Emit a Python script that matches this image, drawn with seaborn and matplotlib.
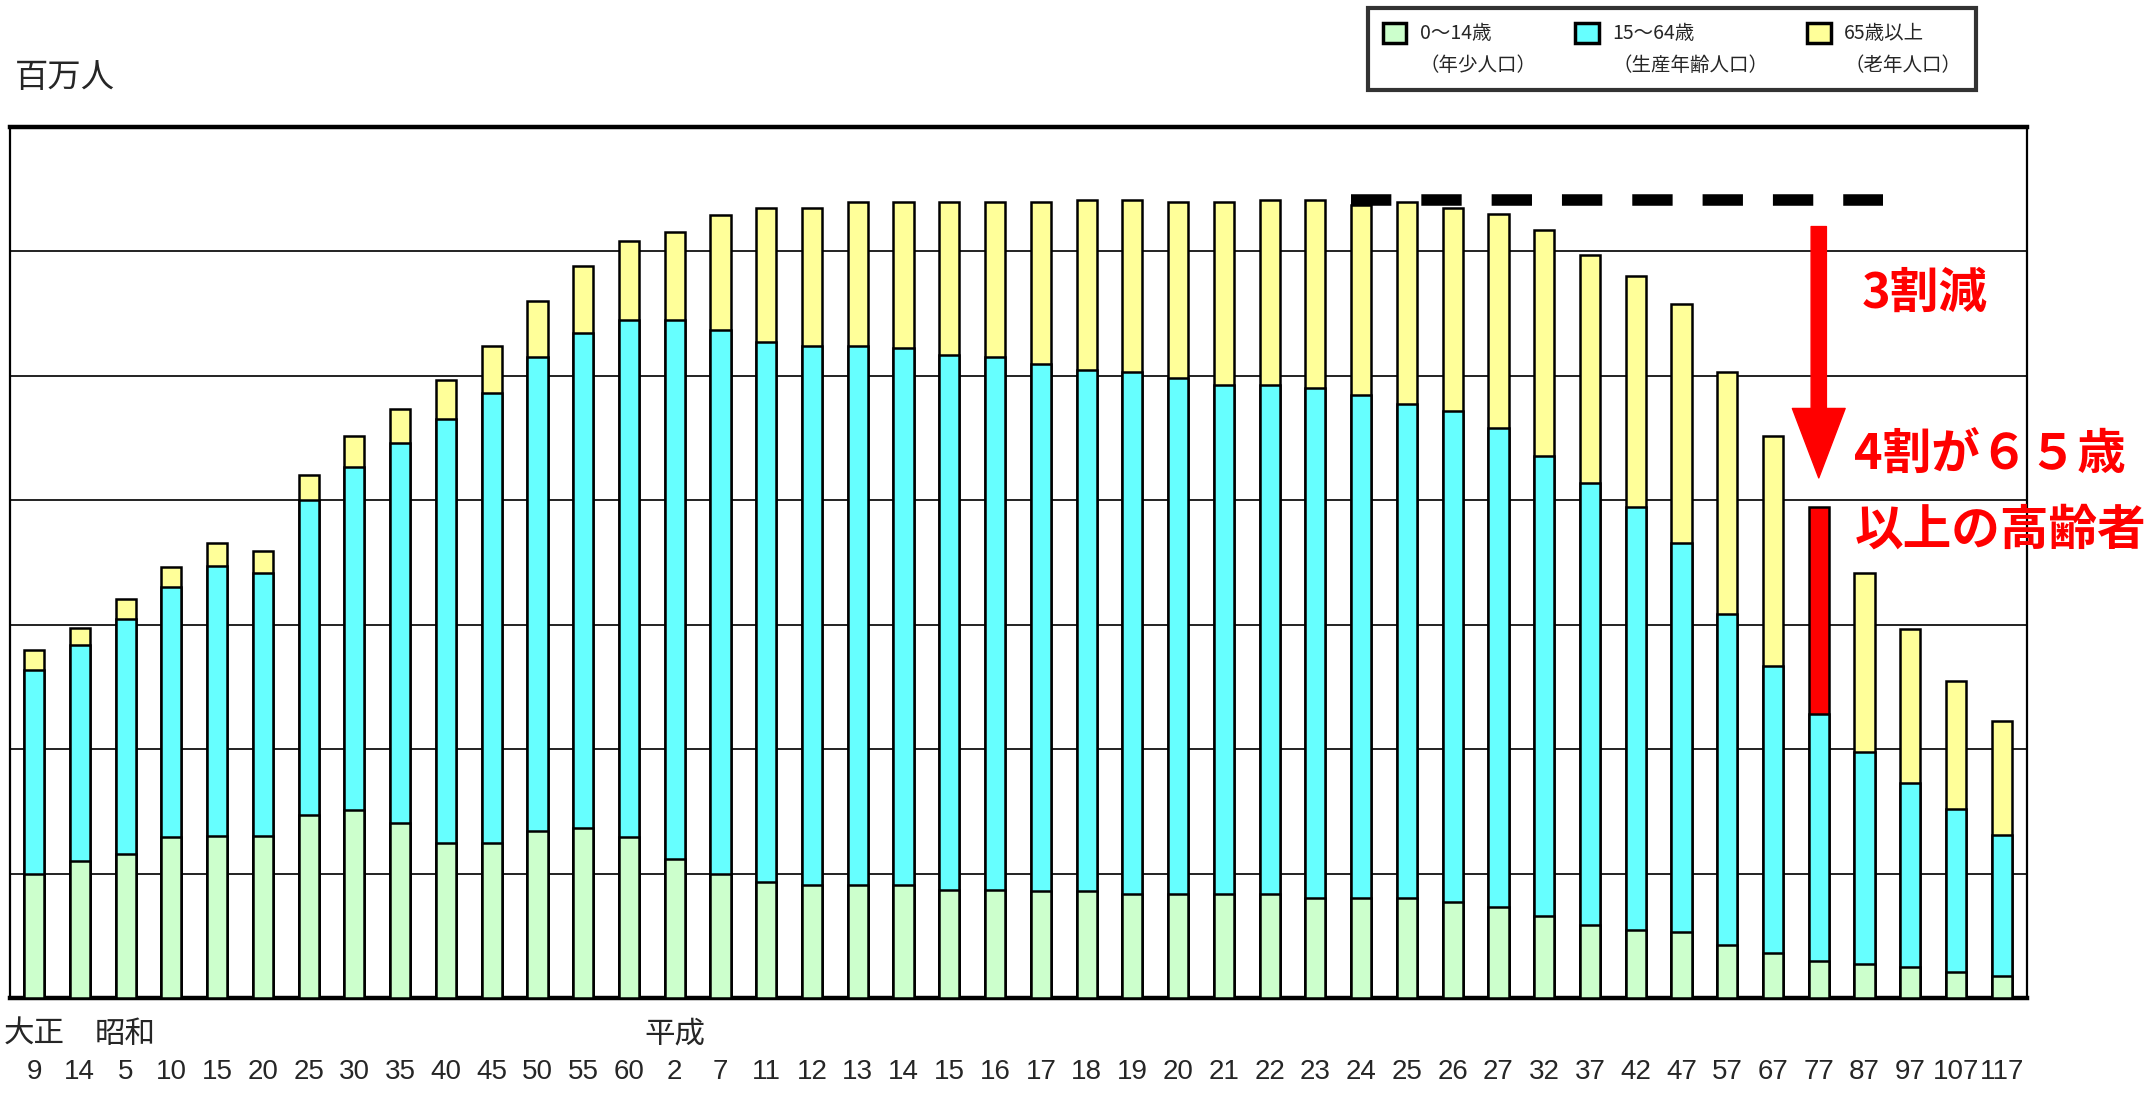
"""Japan population by age group (大正9 ~ 平成117), stacked bars."""

import matplotlib.pyplot as plt
import numpy as np
import pandas as pd
import seaborn as sns
from matplotlib.patches import Patch

# year labels under each bar (era year)
year_labels = ["9", "14", "5", "10", "15", "20", "25", "30", "35", "40", "45",
               "50", "55", "60", "2", "7", "11", "12", "13", "14", "15", "16",
               "17", "18", "19", "20", "21", "22", "23", "24", "25", "26", "27",
               "32", "37", "42", "47", "57", "67", "77", "87", "97", "107", "117"]
# era names, keyed by bar index
era_labels = {0: "大正", 2: "昭和", 14: "平成"}

# millions of people
young = [19.9, 22.0, 23.2, 25.8, 26.0, 26.0, 29.4, 30.2, 28.1, 24.9, 24.9,
         26.9, 27.3, 25.8, 22.4, 19.9, 18.6, 18.2, 18.2, 18.2, 17.3, 17.3,
         17.2, 17.2, 16.7, 16.7, 16.7, 16.7, 16.1, 16.1, 16.1, 15.5, 14.6,
         13.1, 11.8, 11.0, 10.6, 8.5, 7.2, 5.9, 5.5, 4.9, 4.2, 3.6]
working = [32.9, 34.8, 37.7, 40.3, 43.5, 42.3, 50.7, 55.2, 61.1, 68.1, 72.3,
           76.2, 79.6, 83.2, 86.6, 87.5, 86.9, 86.6, 86.6, 86.2, 86.1, 85.7,
           84.7, 83.8, 83.9, 83.0, 81.8, 81.8, 82.0, 80.9, 79.4, 78.8, 77.1,
           74.0, 71.0, 68.0, 62.5, 53.2, 46.1, 39.7, 34.1, 29.6, 26.1, 22.6]
elderly = [3.2, 2.6, 3.3, 3.2, 3.7, 3.6, 3.9, 4.9, 5.5, 6.3, 7.6,
           8.9, 10.8, 12.6, 14.2, 18.4, 21.5, 22.2, 23.1, 23.5, 24.5, 24.9,
           26.0, 27.3, 27.7, 28.2, 29.4, 29.8, 30.2, 30.5, 32.4, 32.7, 34.3,
           36.3, 36.6, 37.0, 38.5, 38.9, 37.1, 33.4, 28.7, 24.8, 20.6, 18.4]

series_labels = ["0～14歳\n（年少人口）", "15～64歳\n（生産年齢人口）", "65歳以上\n（老年人口）"]
highlight = 39      # 平成77: elderly share shown in red
dash_from = 29      # 平成24: start of the peak reference line
dash_to = 40

GREEN = "#CCFFCC"
TEAL = "#66FFFF"
YELLOW = "#FFFF99"
RED = "#FF0000"

n = len(young)
keys = [f"{i:02d}" for i in range(n)]
df = pd.DataFrame({"key": keys, "young": young, "working": working, "elderly": elderly})
df["mid"] = df["young"] + df["working"]
df["total"] = df["mid"] + df["elderly"]

sns.set_style("white")
plt.rcParams["font.family"] = ["Noto Sans CJK JP", "DejaVu Sans"]

fig = plt.figure(figsize=(21.47, 10.95), dpi=100)
ax = fig.add_axes([0.0047, 0.0886, 0.9394, 0.7954])

bar_kw = dict(width=0.44, edgecolor="black", linewidth=1.8, saturation=1, ax=ax, zorder=3)
top_pal = {k: (RED if i == highlight else YELLOW) for i, k in enumerate(keys)}
sns.barplot(data=df, x="key", y="total", hue="key", order=keys, hue_order=keys,
            palette=top_pal, legend=False, **bar_kw)
sns.barplot(data=df, x="key", y="mid", order=keys, color=TEAL, **bar_kw)
sns.barplot(data=df, x="key", y="young", order=keys, color=GREEN, **bar_kw)

# peak population reference
peak = df["total"].max()
ax.plot([dash_from - 0.22, dash_to + 0.4], [peak, peak], color="black", lw=8.3,
        dashes=(3.5, 2.6), solid_capstyle="butt", dash_capstyle="butt", zorder=5)

# arrow + notes
ax.annotate("", xy=(highlight, 83.6), xytext=(highlight, 124.0),
            arrowprops=dict(arrowstyle="simple,head_length=5.0,head_width=3.8,tail_width=1.1",
                            color=RED, shrinkA=0, shrinkB=0, mutation_scale=10),
            zorder=6)
note_kw = dict(color=RED, fontsize=35, fontweight="bold", ha="left", va="center")
ax.text(highlight + 0.93, 113.2, "3割減", **note_kw)
ax.text(highlight + 0.78, 87.3, "4割が６５歳", **note_kw)
ax.text(highlight + 0.78, 75.2, "以上の高齢者", **note_kw)

ax.set_xlim(-0.524, 43.55)
ax.set_ylim(0, 140)
ax.set_yticks(np.arange(0, 141, 20))
ax.set_yticklabels([])
ax.yaxis.grid(True, color="#222222", linewidth=1.4)
ax.set_axisbelow(True)
ax.tick_params(axis="both", length=0)
ax.set_xlabel("")
ax.set_ylabel("")

ax.set_xticks(range(n))
ax.set_xticklabels(year_labels, fontsize=20,
                   fontfamily=["Liberation Sans Narrow", "Liberation Sans", "DejaVu Sans"])
ax.tick_params(axis="x", pad=44)
for i, name in era_labels.items():
    ax.text(i, -0.042, name, transform=ax.get_xaxis_transform(), fontsize=22,
            ha="center", va="center")

for side in ["top", "bottom"]:
    ax.spines[side].set_linewidth(3.2)
for side in ["left", "right"]:
    ax.spines[side].set_linewidth(1.6)
for sp in ax.spines.values():
    sp.set_color("black")
    sp.set_visible(True)

fig.text(0.007, 1 - 77 / 1095, "百万人", fontsize=24, ha="left", va="center")

handles = [Patch(facecolor=c, edgecolor="black", linewidth=2.5) for c in (GREEN, TEAL, YELLOW)]
leg = fig.legend(handles, series_labels, loc="upper left",
                 bbox_to_anchor=(1368 / 2147, 1 - 8 / 1095), ncol=3,
                 fontsize=14, frameon=True, fancybox=False, edgecolor="black",
                 handlelength=1.2, handleheight=1.2, handletextpad=0.7,
                 columnspacing=2.0, borderpad=0.75, borderaxespad=0)
leg.get_frame().set_linewidth(3)
for t in leg.get_texts():
    t.set_linespacing(1.7)
for p in leg.get_patches():
    p.set_y(p.get_y() + 13)

fig.savefig("out.png", dpi=100)
